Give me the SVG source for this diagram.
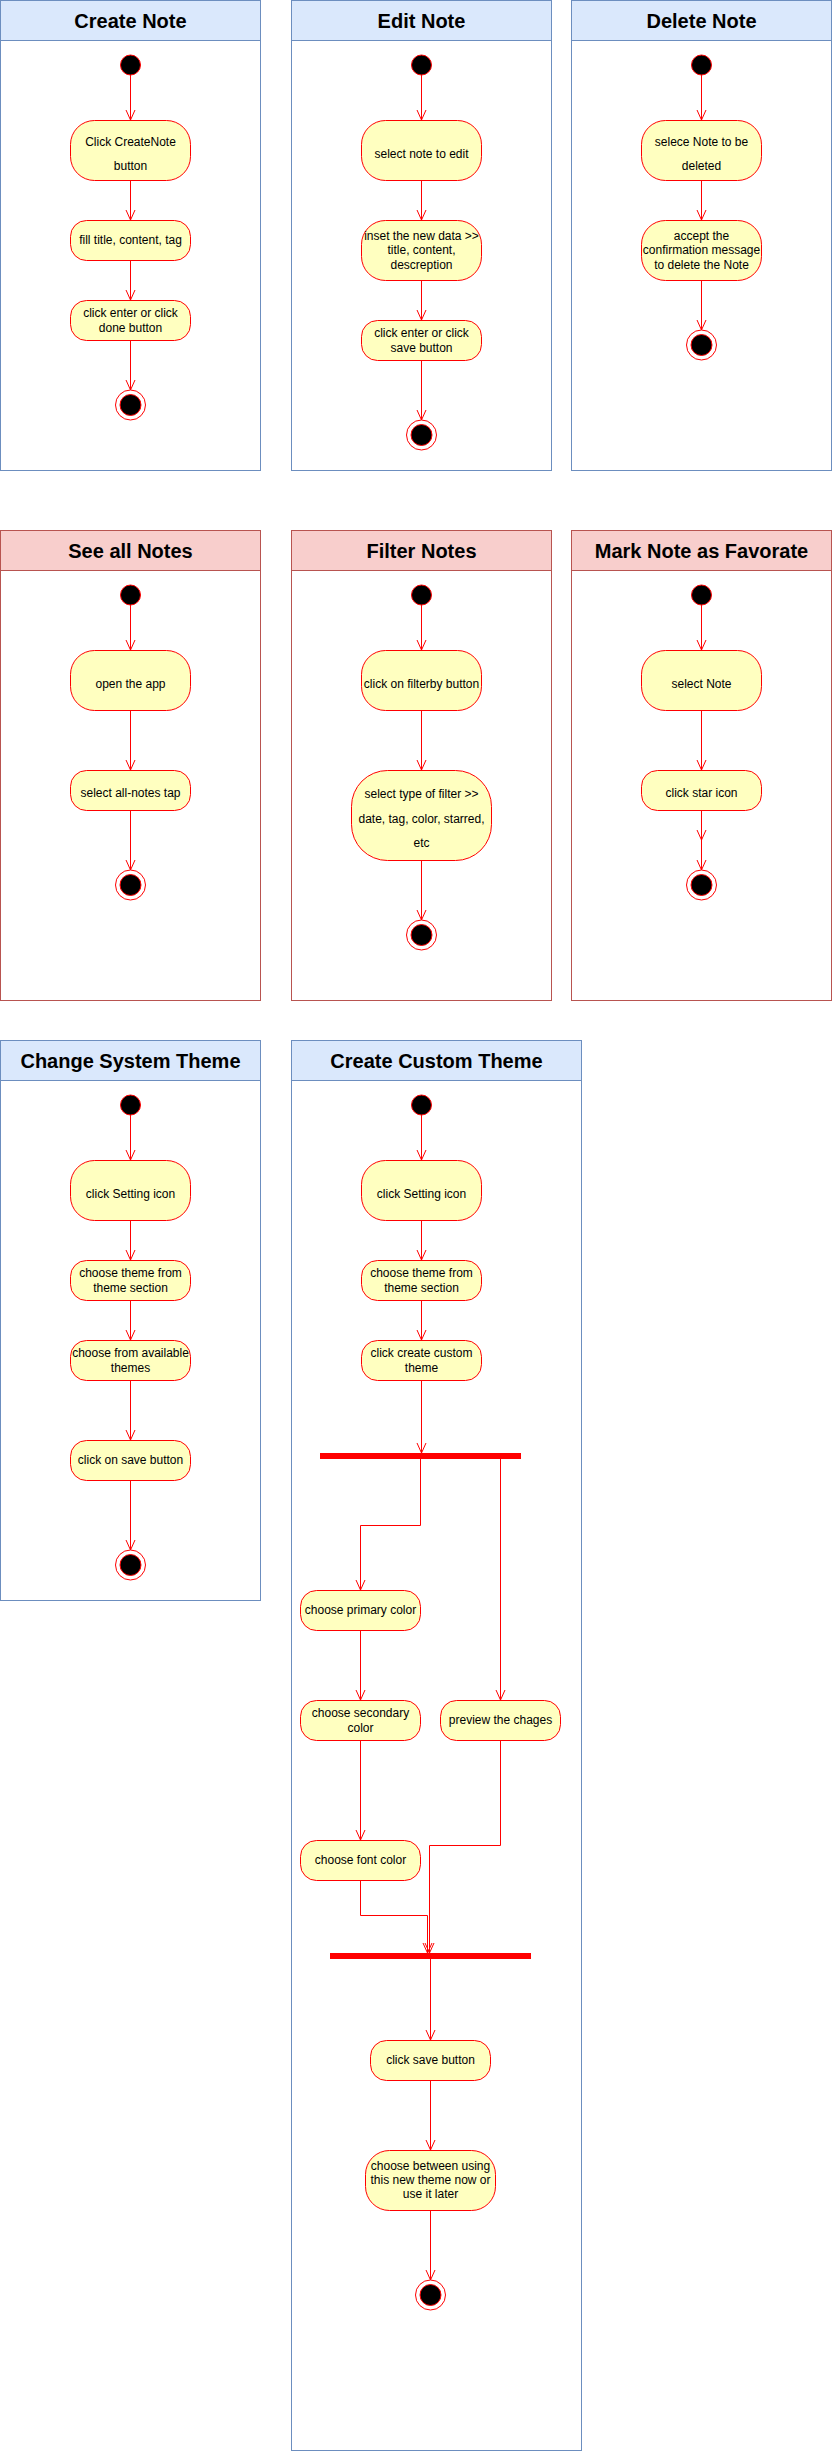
<svg xmlns="http://www.w3.org/2000/svg" width="832" height="2451" viewBox="0 0 832 2451">
<style>
.laneB{fill:#ffffff;stroke:#6c8ebf;stroke-width:1}
.headB{fill:#dae8fc;stroke:#6c8ebf;stroke-width:1}
.laneR{fill:#ffffff;stroke:#b85450;stroke-width:1}
.headR{fill:#f8cecc;stroke:#b85450;stroke-width:1}
.title{font-family:"Liberation Sans",Arial,Helvetica,sans-serif;font-size:20px;font-weight:bold;fill:#000000;text-anchor:middle}
.act{fill:#ffffc0;stroke:#ff0000;stroke-width:1}
.t{font-family:"Liberation Sans",Arial,Helvetica,sans-serif;font-size:12px;fill:#000000;text-anchor:middle}
.start{fill:#000000;stroke:#ff0000;stroke-width:1}
.endo{fill:#ffffff;stroke:#ff0000;stroke-width:1}
.bar{fill:#ff0000;stroke:#ff0000;stroke-width:1}
.e{fill:none;stroke:#ff0000;stroke-width:1;marker-end:url(#arr)}
</style>
<defs>
<marker id="arr" viewBox="-11 -6 12 12" refX="0" refY="0" markerWidth="12" markerHeight="12" markerUnits="userSpaceOnUse" orient="auto">
<path d="M-10,-4.5 L0,0 L-10,4.5" fill="none" stroke="#ff0000" stroke-width="1"/>
</marker>
</defs>
<rect x="0" y="0" width="832" height="2451" fill="#ffffff"/>

<!-- Lanes -->
<g id="lane-create-note"><rect class="laneB" x="0.5" y="0.5" width="260" height="470"/><rect class="headB" x="0.5" y="0.5" width="260" height="40"/><text class="title" x="130.5" y="27.5">Create Note</text></g>
<g id="lane-edit-note"><rect class="laneB" x="291.5" y="0.5" width="260" height="470"/><rect class="headB" x="291.5" y="0.5" width="260" height="40"/><text class="title" x="421.5" y="27.5">Edit Note</text></g>
<g id="lane-delete-note"><rect class="laneB" x="571.5" y="0.5" width="260" height="470"/><rect class="headB" x="571.5" y="0.5" width="260" height="40"/><text class="title" x="701.5" y="27.5">Delete Note</text></g>
<g id="lane-see-all"><rect class="laneR" x="0.5" y="530.5" width="260" height="470"/><rect class="headR" x="0.5" y="530.5" width="260" height="40"/><text class="title" x="130.5" y="557.5">See all Notes</text></g>
<g id="lane-filter"><rect class="laneR" x="291.5" y="530.5" width="260" height="470"/><rect class="headR" x="291.5" y="530.5" width="260" height="40"/><text class="title" x="421.5" y="557.5">Filter Notes</text></g>
<g id="lane-favorite"><rect class="laneR" x="571.5" y="530.5" width="260" height="470"/><rect class="headR" x="571.5" y="530.5" width="260" height="40"/><text class="title" x="701.5" y="557.5">Mark Note as Favorate</text></g>
<g id="lane-system-theme"><rect class="laneB" x="0.5" y="1040.5" width="260" height="560"/><rect class="headB" x="0.5" y="1040.5" width="260" height="40"/><text class="title" x="130.5" y="1067.5">Change System Theme</text></g>
<g id="lane-custom-theme"><rect class="laneB" x="291.5" y="1040.5" width="290" height="1410"/><rect class="headB" x="291.5" y="1040.5" width="290" height="40"/><text class="title" x="436.5" y="1067.5">Create Custom Theme</text></g>

<!-- Connectors -->
<g id="connectors">
<path class="e" d="M130.5 75 V120"/>
<path class="e" d="M130.5 180 V220"/>
<path class="e" d="M130.5 260 V300"/>
<path class="e" d="M130.5 340 V390"/>
<path class="e" d="M421.5 75 V120"/>
<path class="e" d="M421.5 180 V220"/>
<path class="e" d="M421.5 280 V320"/>
<path class="e" d="M421.5 360 V420"/>
<path class="e" d="M701.5 75 V120"/>
<path class="e" d="M701.5 180 V220"/>
<path class="e" d="M701.5 280 V330"/>
<path class="e" d="M130.5 605 V650"/>
<path class="e" d="M130.5 710 V770"/>
<path class="e" d="M130.5 810 V870"/>
<path class="e" d="M421.5 605 V650"/>
<path class="e" d="M421.5 710 V770"/>
<path class="e" d="M421.5 860 V920"/>
<path class="e" d="M701.5 605 V650"/>
<path class="e" d="M701.5 710 V770"/>
<path class="e" d="M701.5 810 V840"/>
<path class="e" d="M701.5 810 V870"/>
<path class="e" d="M130.5 1115 V1160"/>
<path class="e" d="M130.5 1220 V1260"/>
<path class="e" d="M130.5 1300 V1340"/>
<path class="e" d="M130.5 1380 V1440"/>
<path class="e" d="M130.5 1480 V1550"/>
<path class="e" d="M421.5 1115 V1160"/>
<path class="e" d="M421.5 1220 V1260"/>
<path class="e" d="M421.5 1300 V1340"/>
<path class="e" d="M421.5 1380 V1453"/>
<path class="e" d="M420.5 1459 V1525.5 H360.5 V1590"/>
<path class="e" d="M500.5 1459 V1700"/>
<path class="e" d="M360.5 1630 V1700"/>
<path class="e" d="M360.5 1740 V1840"/>
<path class="e" d="M500.5 1740 V1845.5 H429.5 V1953"/>
<path class="e" d="M360.5 1880 V1915.5 H427.5 V1953"/>
<path class="e" d="M430.5 1959 V2040"/>
<path class="e" d="M430.5 2080 V2150"/>
<path class="e" d="M430.5 2210 V2280"/>
</g>

<!-- Create Note -->
<g id="cn-start"><circle class="start" cx="130.5" cy="65" r="10"/></g>
<g id="cn-click"><rect class="act" x="70.5" y="120.5" width="120" height="60" rx="24"/><text class="t" x="130.5" y="146">Click CreateNote</text><text class="t" x="130.5" y="170">button</text></g>
<g id="cn-fill"><rect class="act" x="70.5" y="220.5" width="120" height="40" rx="16"/><text class="t" x="130.5" y="244">fill title, content, tag</text></g>
<g id="cn-done"><rect class="act" x="70.5" y="300.5" width="120" height="40" rx="16"/><text class="t" x="130.5" y="317">click enter or click</text><text class="t" x="130.5" y="332">done button</text></g>
<g id="cn-end"><circle class="endo" cx="130.5" cy="405" r="15"/><circle class="start" cx="130.5" cy="405" r="10.5"/></g>

<!-- Edit Note -->
<g id="en-start"><circle class="start" cx="421.5" cy="65" r="10"/></g>
<g id="en-select"><rect class="act" x="361.5" y="120.5" width="120" height="60" rx="24"/><text class="t" x="421.5" y="158">select note to edit</text></g>
<g id="en-insert"><rect class="act" x="361.5" y="220.5" width="120" height="60" rx="24"/><text class="t" x="421.5" y="240">inset the new data &gt;&gt;</text><text class="t" x="421.5" y="254">title, content,</text><text class="t" x="421.5" y="269">descreption</text></g>
<g id="en-save"><rect class="act" x="361.5" y="320.5" width="120" height="40" rx="16"/><text class="t" x="421.5" y="337">click enter or click</text><text class="t" x="421.5" y="352">save button</text></g>
<g id="en-end"><circle class="endo" cx="421.5" cy="435" r="15"/><circle class="start" cx="421.5" cy="435" r="10.5"/></g>

<!-- Delete Note -->
<g id="dn-start"><circle class="start" cx="701.5" cy="65" r="10"/></g>
<g id="dn-select"><rect class="act" x="641.5" y="120.5" width="120" height="60" rx="24"/><text class="t" x="701.5" y="146">selece Note to be</text><text class="t" x="701.5" y="170">deleted</text></g>
<g id="dn-accept"><rect class="act" x="641.5" y="220.5" width="120" height="60" rx="24"/><text class="t" x="701.5" y="240">accept the</text><text class="t" x="701.5" y="254">confirmation message</text><text class="t" x="701.5" y="269">to delete the Note</text></g>
<g id="dn-end"><circle class="endo" cx="701.5" cy="345" r="15"/><circle class="start" cx="701.5" cy="345" r="10.5"/></g>

<!-- See all Notes -->
<g id="sa-start"><circle class="start" cx="130.5" cy="595" r="10"/></g>
<g id="sa-open"><rect class="act" x="70.5" y="650.5" width="120" height="60" rx="24"/><text class="t" x="130.5" y="688">open the app</text></g>
<g id="sa-select"><rect class="act" x="70.5" y="770.5" width="120" height="40" rx="16"/><text class="t" x="130.5" y="797">select all-notes tap</text></g>
<g id="sa-end"><circle class="endo" cx="130.5" cy="885" r="15"/><circle class="start" cx="130.5" cy="885" r="10.5"/></g>

<!-- Filter Notes -->
<g id="fn-start"><circle class="start" cx="421.5" cy="595" r="10"/></g>
<g id="fn-click"><rect class="act" x="361.5" y="650.5" width="120" height="60" rx="24"/><text class="t" x="421.5" y="688">click on filterby button</text></g>
<g id="fn-type"><rect class="act" x="351.5" y="770.5" width="140" height="90" rx="36"/><text class="t" x="421.5" y="798">select type of filter &gt;&gt;</text><text class="t" x="421.5" y="823">date, tag, color, starred,</text><text class="t" x="421.5" y="847">etc</text></g>
<g id="fn-end"><circle class="endo" cx="421.5" cy="935" r="15"/><circle class="start" cx="421.5" cy="935" r="10.5"/></g>

<!-- Mark Note as Favorate -->
<g id="mf-start"><circle class="start" cx="701.5" cy="595" r="10"/></g>
<g id="mf-select"><rect class="act" x="641.5" y="650.5" width="120" height="60" rx="24"/><text class="t" x="701.5" y="688">select Note</text></g>
<g id="mf-star"><rect class="act" x="641.5" y="770.5" width="120" height="40" rx="16"/><text class="t" x="701.5" y="797">click star icon</text></g>
<g id="mf-end"><circle class="endo" cx="701.5" cy="885" r="15"/><circle class="start" cx="701.5" cy="885" r="10.5"/></g>

<!-- Change System Theme -->
<g id="st-start"><circle class="start" cx="130.5" cy="1105" r="10"/></g>
<g id="st-setting"><rect class="act" x="70.5" y="1160.5" width="120" height="60" rx="24"/><text class="t" x="130.5" y="1198">click Setting icon</text></g>
<g id="st-section"><rect class="act" x="70.5" y="1260.5" width="120" height="40" rx="16"/><text class="t" x="130.5" y="1277">choose theme from</text><text class="t" x="130.5" y="1292">theme section</text></g>
<g id="st-available"><rect class="act" x="70.5" y="1340.5" width="120" height="40" rx="16"/><text class="t" x="130.5" y="1357">choose from available</text><text class="t" x="130.5" y="1372">themes</text></g>
<g id="st-save"><rect class="act" x="70.5" y="1440.5" width="120" height="40" rx="16"/><text class="t" x="130.5" y="1464">click on save button</text></g>
<g id="st-end"><circle class="endo" cx="130.5" cy="1565" r="15"/><circle class="start" cx="130.5" cy="1565" r="10.5"/></g>

<!-- Create Custom Theme -->
<g id="ct-start"><circle class="start" cx="421.5" cy="1105" r="10"/></g>
<g id="ct-setting"><rect class="act" x="361.5" y="1160.5" width="120" height="60" rx="24"/><text class="t" x="421.5" y="1198">click Setting icon</text></g>
<g id="ct-section"><rect class="act" x="361.5" y="1260.5" width="120" height="40" rx="16"/><text class="t" x="421.5" y="1277">choose theme from</text><text class="t" x="421.5" y="1292">theme section</text></g>
<g id="ct-create"><rect class="act" x="361.5" y="1340.5" width="120" height="40" rx="16"/><text class="t" x="421.5" y="1357">click create custom</text><text class="t" x="421.5" y="1372">theme</text></g>
<g id="ct-fork"><rect class="bar" x="320.5" y="1453.5" width="200" height="5"/></g>
<g id="ct-primary"><rect class="act" x="300.5" y="1590.5" width="120" height="40" rx="16"/><text class="t" x="360.5" y="1614">choose primary color</text></g>
<g id="ct-secondary"><rect class="act" x="300.5" y="1700.5" width="120" height="40" rx="16"/><text class="t" x="360.5" y="1717">choose secondary</text><text class="t" x="360.5" y="1731.5">color</text></g>
<g id="ct-preview"><rect class="act" x="440.5" y="1700.5" width="120" height="40" rx="16"/><text class="t" x="500.5" y="1724">preview the chages</text></g>
<g id="ct-font"><rect class="act" x="300.5" y="1840.5" width="120" height="40" rx="16"/><text class="t" x="360.5" y="1864">choose font color</text></g>
<g id="ct-join"><rect class="bar" x="330.5" y="1953.5" width="200" height="5"/></g>
<g id="ct-save"><rect class="act" x="370.5" y="2040.5" width="120" height="40" rx="16"/><text class="t" x="430.5" y="2064">click save button</text></g>
<g id="ct-choose"><rect class="act" x="365.5" y="2150.5" width="130" height="60" rx="24"/><text class="t" x="430.5" y="2170">choose between using</text><text class="t" x="430.5" y="2184">this new theme now or</text><text class="t" x="430.5" y="2198">use it later</text></g>
<g id="ct-end"><circle class="endo" cx="430.5" cy="2295" r="15"/><circle class="start" cx="430.5" cy="2295" r="10.5"/></g>
</svg>
